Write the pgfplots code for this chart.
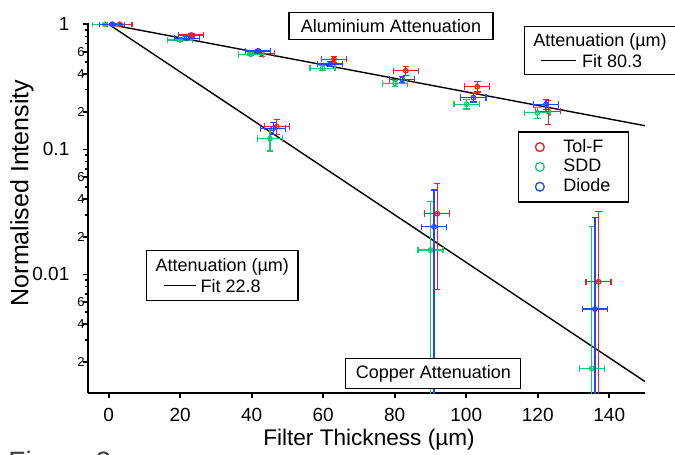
\documentclass[border=0pt]{standalone}
\usepackage{fontspec}
\setmainfont{Liberation Sans}
\usepackage{pgfplots}
\pgfplotsset{compat=1.18}
\usepackage{pgfplotstable}

\definecolor{tolf}{RGB}{235,30,35}
\definecolor{sdd}{RGB}{35,195,115}
\definecolor{diode}{RGB}{30,75,245}
\newcommand{\sm}{\fontsize{6.5}{7}\selectfont}
\newcommand{\bg}[1]{#1\hspace*{7.6pt}}
\newcommand{\nf}{\fontsize{9}{10.3}\selectfont}

\pgfplotstableread{
x y ex eyp eym
3.0 1.0 3.5 0.02 0.02
23.1 0.82 3.5 0.03 0.03
42.8 0.586 3.5 0.03 0.03
63.0 0.525 3.5 0.03 0.03
83.1 0.425 3.5 0.035 0.035
103.1 0.317 3.5 0.03 0.03
122.9 0.202 3.5 0.045 0.045
47.0 0.152 3.5 0.02 0.02
91.9 0.0306 3.5 0.023 0.023
137.0 0.00873 3.5 0.0233 0.00823
}\tolftab

\pgfplotstableread{
x y ex eyp eym
-1.0 1.0 3.5 0.02 0.02
20.0 0.749 3.5 0.02 0.02
39.7 0.575 3.5 0.015 0.015
59.8 0.445 3.5 0.02 0.02
80.1 0.337 3.5 0.02 0.02
100.1 0.230 3.5 0.02 0.02
119.9 0.196 3.5 0.02 0.02
45.1 0.122 3.5 0.025 0.025
90.0 0.01565 3.5 0.0225 0.01515
135.1 0.00177 3.5 0.0225 0.00127
}\sddtab

\pgfplotstableread{
x y ex eyp eym
1.0 1.0 3.5 0.02 0.02
21.8 0.773 3.5 0.02 0.02
41.8 0.612 3.5 0.02 0.02
61.9 0.481 3.5 0.02 0.02
82.1 0.363 3.5 0.02 0.02
102.0 0.259 3.5 0.02 0.02
122.3 0.229 3.5 0.02 0.02
46.0 0.147 3.5 0.016 0.016
91.0 0.0240 3.5 0.0233 0.0235
136.0 0.00528 3.5 0.0233 0.00478
}\diodetab

\begin{document}
\begin{tikzpicture}
\path[use as bounding box] (-44pt,-30.85pt) rectangle (293.5pt,196.65pt);
\begin{axis}[
  scale only axis,
  width=278.5pt, height=185.15pt,
  ymode=log,
  xmin=-5.8, xmax=150,
  ymin=0.00112, ymax=1.024,
  axis lines*=left,
  axis line style={line width=1pt},
  tick align=outside,
  major tick length=2.4pt,
  minor tick length=1.4pt,
  tick style={black, line width=0.8pt},
  xtick={0,20,...,140},
  ytick={0.002,0.004,0.006,0.01,0.02,0.04,0.06,0.1,0.2,0.4,0.6,1},
  yticklabels={\sm 2,\sm 4,\sm 6,\bg{0.01},\sm 2,\sm 4,\sm 6,\bg{0.1},\sm 2,\sm 4,\sm 6,\bg{1}},
  minor ytick={0.003,0.005,0.007,0.008,0.009,0.03,0.05,0.07,0.08,0.09,0.3,0.5,0.7,0.8,0.9},
  /pgf/number format/assume math mode=true,
  tick label style={font=\fontsize{9.5}{11}\selectfont},
  yticklabel style={xshift=4.2pt},
  xticklabel style={yshift=-1.5pt},
  xlabel={Filter Thickness (µm)},
  ylabel={Normalised Intensity},
  xlabel style={font=\fontsize{11.3}{13}\selectfont, at={(rel axis cs:0.5045,-0.125)}, anchor=center},
  ylabel style={font=\fontsize{12.5}{14}\selectfont, at={(rel axis cs:-0.1185,0.541)}, anchor=center},
  clip mode=individual,
  legend style={at={(rel axis cs:0.7714,0.7075)}, anchor=north west,
    draw=black, line width=0.6pt, font=\nf, row sep=0pt,
    inner xsep=4pt, inner ysep=2.6pt, nodes={inner sep=1pt}},
  legend cell align=left,
  legend image code/.code={\path (-6.5pt,0pt) (10.5pt,0pt); \draw[#1, mark size=2.2pt, line width=0.65pt] plot coordinates {(0pt,0pt)};},
  error bars/y dir=both, error bars/y explicit,
  error bars/x dir=both, error bars/x explicit,
  error bars/error mark options={rotate=90, mark size=1.6pt, line width=0.6pt},
]
\addplot[black, line width=0.7pt, forget plot, error bars/y dir=none, error bars/x dir=none] coordinates {(0,1) (150,0.1545)};
\addplot[black, line width=0.7pt, forget plot, error bars/y dir=none, error bars/x dir=none] coordinates {(0,1) (150,0.00139)};

\addplot[tolf, only marks, mark=o, mark size=1.15pt, mark options={line width=0.65pt},
  error bars/error bar style={tolf, line width=0.6pt}]
  table[x=x, y=y, x error=ex, y error plus=eyp, y error minus=eym] {\tolftab};
\addlegendentry{Tol-F\hspace*{4pt}}
\addplot[sdd, only marks, mark=o, mark size=1.15pt, mark options={line width=0.65pt},
  error bars/error bar style={sdd, line width=0.6pt}]
  table[x=x, y=y, x error=ex, y error plus=eyp, y error minus=eym] {\sddtab};
\addlegendentry{SDD\hspace*{4pt}}
\addplot[diode, only marks, mark=o, mark size=1.15pt, mark options={line width=0.65pt},
  error bars/error bar style={diode, line width=0.6pt}]
  table[x=x, y=y, x error=ex, y error plus=eyp, y error minus=eym] {\diodetab};
\addlegendentry{Diode\hspace*{4pt}}

\node[draw, fill=white, line width=0.6pt, font=\nf, inner xsep=6pt, minimum height=13.5pt]
  at (rel axis cs:0.544,0.992) {Aluminium Attenuation};
\node[draw, fill=white, line width=0.6pt, font=\nf, inner xsep=5pt, minimum height=13.5pt]
  at (rel axis cs:0.620,0.053) {Copper Attenuation};
\node[draw, fill=white, line width=0.6pt, font=\nf, inner xsep=4.2pt, inner ysep=3.6pt, align=left, anchor=north west]
  at (rel axis cs:0.7833,0.9919) {Attenuation (µm)\\\hspace*{3.7pt}\rule[3pt]{17.5pt}{0.6pt}\hspace{3.2pt}Fit 80.3};
\node[draw, fill=white, line width=0.6pt, font=\nf, inner xsep=4.5pt, inner ysep=4pt, align=left, anchor=north west]
  at (rel axis cs:0.1041,0.3874) {Attenuation (µm)\\\hspace*{4pt}\rule[3pt]{16pt}{0.6pt}\hspace{2.5pt}Fit 22.8};
\node[anchor=north west, inner sep=0pt, font=\fontsize{14}{16}\selectfont, text=darkgray]
  at (rel axis cs:-0.1436,-0.156) {Figure 2};
\end{axis}
\end{tikzpicture}
\end{document}
